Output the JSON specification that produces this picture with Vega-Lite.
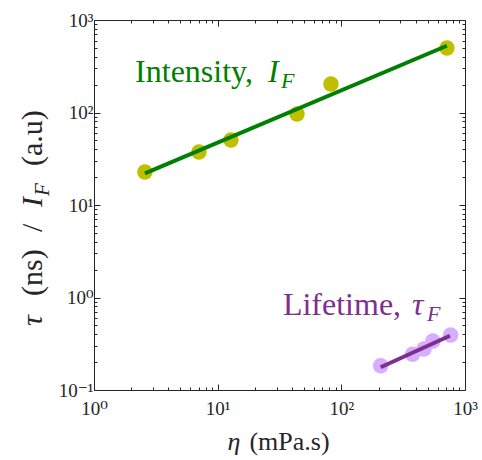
{
  "$schema": "https://vega.github.io/schema/vega-lite/v6.json",
  "width": 371,
  "height": 370,
  "autosize": {"type": "none"},
  "padding": {"left": 94, "top": 20, "right": 17, "bottom": 70},
  "background": "white",
  "config": {
    "view": {"stroke": null},
    "font": "Liberation Serif, DejaVu Serif, serif",
    "text": {"font": "Liberation Serif, DejaVu Serif, serif"},
    "axis": {
      "grid": false,
      "domainColor": "#262626",
      "domainWidth": 1,
      "tickColor": "#262626",
      "tickWidth": 1,
      "labelColor": "#262626",
      "labelFont": "Liberation Serif, DejaVu Serif, serif",
      "labelFontSize": 19,
      "labelOverlap": false,
      "labelFlush": false,
      "labelBound": false
    }
  },
  "datasets": {
    "intensity": [
      {"eta": 2.58, "val": 22.7},
      {"eta": 7.06, "val": 37.4},
      {"eta": 12.8, "val": 50.4},
      {"eta": 43.8, "val": 96.3},
      {"eta": 82.4, "val": 203},
      {"eta": 714, "val": 498}
    ],
    "intensityFit": [
      {"eta": 2.58, "val": 22.0},
      {"eta": 714, "val": 527}
    ],
    "lifetime": [
      {"eta": 208, "val": 0.183},
      {"eta": 377, "val": 0.243},
      {"eta": 466, "val": 0.277},
      {"eta": 550, "val": 0.339},
      {"eta": 765, "val": 0.393}
    ],
    "lifetimeFit": [
      {"eta": 208, "val": 0.176},
      {"eta": 755, "val": 0.386}
    ],
    "anchor": [{"n": 1}]
  },
  "layer": [
    {
      "data": {"name": "intensity"},
      "mark": {"type": "circle", "size": 240, "color": "#BFBF00", "opacity": 1},
      "encoding": {
        "x": {
          "field": "eta", "type": "quantitative",
          "scale": {"type": "log", "domain": [1, 1000], "nice": false},
          "axis": {
            "orient": "bottom", "title": null,
            "values": [1,2,3,4,5,6,7,8,9,10,20,30,40,50,60,70,80,90,100,200,300,400,500,600,700,800,900,1000],
            "labelExpr": "datum.value == 1 ? '10⁰' : datum.value == 10 ? '10¹' : datum.value == 100 ? '10²' : datum.value == 1000 ? '10³' : ''",
            "tickSize": {"condition": {"test": "abs(log(datum.value)/LN10 - round(log(datum.value)/LN10)) < 0.01", "value": -6}, "value": -3},
            "labelPadding": 15
          }
        },
        "y": {
          "field": "val", "type": "quantitative",
          "scale": {"type": "log", "domain": [0.1, 1000], "nice": false},
          "axis": {
            "orient": "left", "title": null,
            "values": [0.1,0.2,0.3,0.4,0.5,0.6,0.7,0.8,0.9,1,2,3,4,5,6,7,8,9,10,20,30,40,50,60,70,80,90,100,200,300,400,500,600,700,800,900,1000],
            "labelExpr": "datum.value == 0.1 ? '10⁻¹' : datum.value == 1 ? '10⁰' : datum.value == 10 ? '10¹' : datum.value == 100 ? '10²' : datum.value == 1000 ? '10³' : ''",
            "tickSize": {"condition": {"test": "abs(log(datum.value)/LN10 - round(log(datum.value)/LN10)) < 0.01", "value": -6}, "value": -3},
            "labelPadding": 7
          }
        }
      }
    },
    {
      "data": {"name": "intensity"},
      "mark": {"type": "point", "opacity": 0},
      "encoding": {
        "x": {
          "field": "eta", "type": "quantitative",
          "axis": {
            "orient": "top", "title": null, "labels": false,
            "values": [1,2,3,4,5,6,7,8,9,10,20,30,40,50,60,70,80,90,100,200,300,400,500,600,700,800,900,1000],
            "tickSize": {"condition": {"test": "abs(log(datum.value)/LN10 - round(log(datum.value)/LN10)) < 0.01", "value": -6}, "value": -3}
          }
        },
        "y": {
          "field": "val", "type": "quantitative",
          "axis": {
            "orient": "right", "title": null, "labels": false,
            "values": [0.1,0.2,0.3,0.4,0.5,0.6,0.7,0.8,0.9,1,2,3,4,5,6,7,8,9,10,20,30,40,50,60,70,80,90,100,200,300,400,500,600,700,800,900,1000],
            "tickSize": {"condition": {"test": "abs(log(datum.value)/LN10 - round(log(datum.value)/LN10)) < 0.01", "value": -6}, "value": -3}
          }
        }
      }
    },
    {
      "data": {"name": "intensityFit"},
      "mark": {"type": "line", "color": "#008000", "strokeWidth": 4},
      "encoding": {
        "x": {"field": "eta", "type": "quantitative", "axis": null},
        "y": {"field": "val", "type": "quantitative", "axis": null}
      }
    },
    {
      "data": {"name": "lifetime"},
      "mark": {"type": "circle", "size": 240, "color": "#D6ADFF", "opacity": 1},
      "encoding": {
        "x": {"field": "eta", "type": "quantitative", "axis": null},
        "y": {"field": "val", "type": "quantitative", "axis": null}
      }
    },
    {
      "data": {"name": "lifetimeFit"},
      "mark": {"type": "line", "color": "#7E2F8E", "strokeWidth": 4},
      "encoding": {
        "x": {"field": "eta", "type": "quantitative", "axis": null},
        "y": {"field": "val", "type": "quantitative", "axis": null}
      }
    },
    {
      "data": {"name": "anchor"},
      "mark": {"type": "text", "text": "Intensity,", "fontSize": 32, "color": "#008000", "align": "left", "baseline": "alphabetic"},
      "encoding": {
        "x": {"datum": 2.15, "type": "quantitative", "axis": null},
        "y": {"datum": 214, "type": "quantitative", "axis": null}
      }
    },
    {
      "data": {"name": "anchor"},
      "mark": {"type": "text", "text": "I", "fontStyle": "italic", "fontSize": 32, "color": "#008000", "align": "left", "baseline": "alphabetic"},
      "encoding": {
        "x": {"datum": 25.5, "type": "quantitative", "axis": null},
        "y": {"datum": 214, "type": "quantitative", "axis": null}
      }
    },
    {
      "data": {"name": "anchor"},
      "mark": {"type": "text", "text": "F", "fontStyle": "italic", "fontSize": 22, "color": "#008000", "align": "left", "baseline": "alphabetic"},
      "encoding": {
        "x": {"datum": 32.5, "type": "quantitative", "axis": null},
        "y": {"datum": 184, "type": "quantitative", "axis": null}
      }
    },
    {
      "data": {"name": "anchor"},
      "mark": {"type": "text", "text": "Lifetime,", "fontSize": 32, "color": "#7E2F8E", "align": "left", "baseline": "alphabetic"},
      "encoding": {
        "x": {"datum": 33.7, "type": "quantitative", "axis": null},
        "y": {"datum": 0.647, "type": "quantitative", "axis": null}
      }
    },
    {
      "data": {"name": "anchor"},
      "mark": {"type": "text", "text": "τ", "fontStyle": "italic", "fontSize": 32, "color": "#7E2F8E", "align": "left", "baseline": "alphabetic"},
      "encoding": {
        "x": {"datum": 372, "type": "quantitative", "axis": null},
        "y": {"datum": 0.647, "type": "quantitative", "axis": null}
      }
    },
    {
      "data": {"name": "anchor"},
      "mark": {"type": "text", "text": "F", "fontStyle": "italic", "fontSize": 22, "color": "#7E2F8E", "align": "left", "baseline": "alphabetic"},
      "encoding": {
        "x": {"datum": 492, "type": "quantitative", "axis": null},
        "y": {"datum": 0.557, "type": "quantitative", "axis": null}
      }
    },
    {
      "data": {"name": "anchor"},
      "mark": {"type": "text", "text": "η", "fontStyle": "italic", "fontSize": 26, "color": "#262626", "align": "left", "baseline": "alphabetic"},
      "encoding": {
        "x": {"datum": 12.0, "type": "quantitative", "axis": null},
        "y": {"datum": 0.02245, "type": "quantitative", "axis": null}
      }
    },
    {
      "data": {"name": "anchor"},
      "mark": {"type": "text", "text": "(mPa.s)", "fontSize": 26, "color": "#262626", "align": "left", "baseline": "alphabetic", "dx": 22},
      "encoding": {
        "x": {"datum": 12.0, "type": "quantitative", "axis": null},
        "y": {"datum": 0.02245, "type": "quantitative", "axis": null}
      }
    },
    {
      "data": {"name": "anchor"},
      "mark": {"type": "text", "text": "τ", "fontStyle": "italic", "fontSize": 30, "color": "#262626", "align": "left", "baseline": "alphabetic", "angle": 270},
      "encoding": {
        "x": {"datum": 0.38, "type": "quantitative", "axis": null},
        "y": {"datum": 0.492, "type": "quantitative", "axis": null}
      }
    },
    {
      "data": {"name": "anchor"},
      "mark": {"type": "text", "text": "(ns)", "fontSize": 30, "color": "#262626", "align": "left", "baseline": "alphabetic", "angle": 270, "dx": 30},
      "encoding": {
        "x": {"datum": 0.38, "type": "quantitative", "axis": null},
        "y": {"datum": 0.492, "type": "quantitative", "axis": null}
      }
    },
    {
      "data": {"name": "anchor"},
      "mark": {"type": "text", "text": "/", "fontSize": 30, "color": "#262626", "align": "left", "baseline": "alphabetic", "angle": 270, "dx": 94},
      "encoding": {
        "x": {"datum": 0.38, "type": "quantitative", "axis": null},
        "y": {"datum": 0.492, "type": "quantitative", "axis": null}
      }
    },
    {
      "data": {"name": "anchor"},
      "mark": {"type": "text", "text": "I", "fontStyle": "italic", "fontSize": 30, "color": "#262626", "align": "left", "baseline": "alphabetic", "angle": 270, "dx": 119},
      "encoding": {
        "x": {"datum": 0.38, "type": "quantitative", "axis": null},
        "y": {"datum": 0.492, "type": "quantitative", "axis": null}
      }
    },
    {
      "data": {"name": "anchor"},
      "mark": {"type": "text", "text": "F", "fontStyle": "italic", "fontSize": 21, "color": "#262626", "align": "left", "baseline": "alphabetic", "angle": 270, "dx": 130, "dy": 7},
      "encoding": {
        "x": {"datum": 0.38, "type": "quantitative", "axis": null},
        "y": {"datum": 0.492, "type": "quantitative", "axis": null}
      }
    },
    {
      "data": {"name": "anchor"},
      "mark": {"type": "text", "text": "(a.u)", "fontSize": 30, "color": "#262626", "align": "left", "baseline": "alphabetic", "angle": 270, "dx": 160},
      "encoding": {
        "x": {"datum": 0.38, "type": "quantitative", "axis": null},
        "y": {"datum": 0.492, "type": "quantitative", "axis": null}
      }
    }
  ],
  "resolve": {"axis": {"x": "independent", "y": "independent"}}
}
